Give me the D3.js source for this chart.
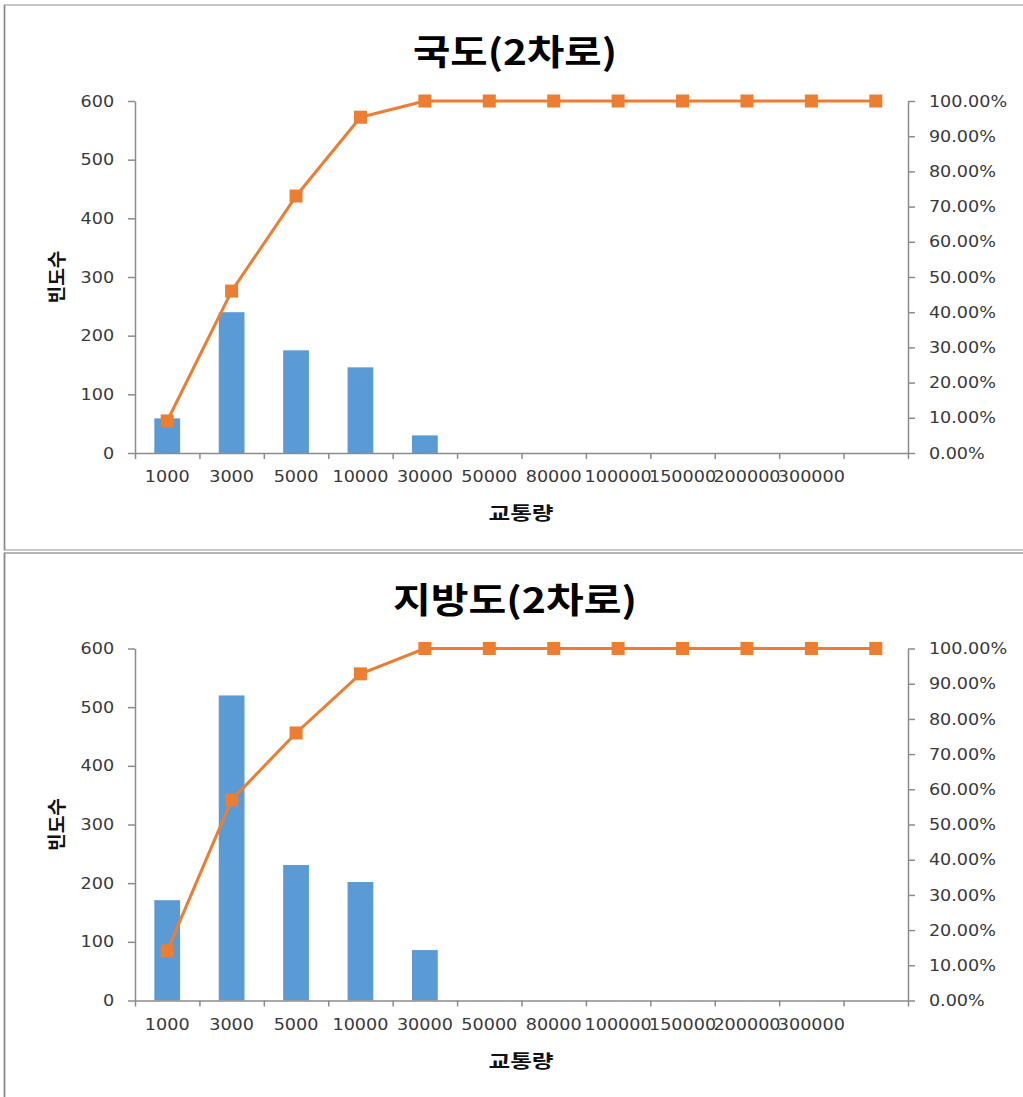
<!DOCTYPE html>
<html><head><meta charset="utf-8">
<script src="https://cdn.jsdelivr.net/npm/d3@7"></script>
<style>body{margin:0;background:#fff}</style>
</head><body>
<svg id="c" width="1023" height="1097"></svg>
<script>
const categories = ["1000","3000","5000","10000","30000","50000","80000","100000","150000","200000","300000",""];
const panelTitles = ["국도(2차로)", "지방도(2차로)"];
const roadCounts = [59, 240, 175, 146, 30, 0, 0, 0, 0, 0, 0, 0];
const roadCumPct = [9.1, 46.0, 73.0, 95.4, 100, 100, 100, 100, 100, 100, 100, 100];
const localCounts = [171, 520, 231, 202, 86, 0, 0, 0, 0, 0, 0, 0];
const localCumPct = [14.1, 57.0, 76.0, 92.8, 100, 100, 100, 100, 100, 100, 100, 100];
const countTicks = [0, 100, 200, 300, 400, 500, 600];
const pctTicks = [0, 10, 20, 30, 40, 50, 60, 70, 80, 90, 100];
const xAxisTitle = "교통량";
const yAxisTitle = "빈도수";

const W = 1023, H = 1097;
const svg = d3.select("#c");
svg.append("rect").attr("width", W).attr("height", H).attr("fill", "#fff");

const x0 = 135, x1 = 908, yTop = 101, yBot = 453;
const barColor = "#5B9BD5", lineColor = "#ED7D31", axisColor = "#8c8c8c", textColor = "#3a3a3a";
const numFont = "'DejaVu Sans', Verdana, sans-serif";
const krFont = "'Noto Sans CJK KR', sans-serif";

const panels = [
  {title: panelTitles[0], counts: roadCounts, cum: roadCumPct, top: 0, titleLen: 204, rectY: 5, rectH: 545, stroke: "#b5b5b5"},
  {title: panelTitles[1], counts: localCounts, cum: localCumPct, top: 547.5, titleLen: 244, rectY: 5.5, rectH: 600, stroke: "#9a9a9a"}
];

const idx = d3.range(categories.length);
const xb = d3.scaleBand().domain(idx).range([x0, x1]).paddingInner(0.6).paddingOuter(0.3);
const xl = d3.scaleLinear().domain([0, categories.length]).range([x0, x1]);
const yL = d3.scaleLinear().domain([0, 600]).range([yBot, yTop]);
const yR = d3.scaleLinear().domain([0, 100]).range([yBot, yTop]);

function styleAxis(g) {
  g.select(".domain").attr("stroke", axisColor).attr("stroke-width", 1.5);
  g.selectAll(".tick line").attr("stroke", axisColor).attr("stroke-width", 1.5);
  g.selectAll(".tick text").attr("fill", textColor).attr("font-family", numFont).attr("font-size", 16)
    .attr("transform", "scale(1.1,1)");
}

panels.forEach(p => {
  const g = svg.append("g").attr("transform", `translate(0,${p.top})`);
  g.append("rect").attr("x", 4.5).attr("y", p.rectY).attr("width", 1040).attr("height", p.rectH)
    .attr("fill", "none").attr("stroke", p.stroke).attr("stroke-width", 1.5);
  g.append("line").attr("x1", 4.5).attr("x2", 4.5).attr("y1", p.rectY).attr("y2", p.rectY + p.rectH)
    .attr("stroke", "#8a8a8a").attr("stroke-width", 1.5);

  // title
  g.append("text").attr("x", 515).attr("y", 65).attr("text-anchor", "middle")
    .attr("font-family", krFont).attr("font-weight", "bold").attr("font-size", 35)
    .attr("textLength", p.titleLen).attr("lengthAdjust", "spacingAndGlyphs")
    .attr("fill", "#000").text(p.title);

  // bars
  g.append("g").selectAll("rect").data(p.counts).join("rect")
    .attr("x", (d, i) => xb(i)).attr("width", xb.bandwidth())
    .attr("y", d => yL(d)).attr("height", d => yBot - yL(d))
    .attr("fill", barColor);

  // left axis
  const ga = g.append("g").attr("transform", `translate(${x0},0)`)
    .call(d3.axisLeft(yL).tickValues(countTicks).tickSize(7).tickSizeOuter(0).tickPadding(12));
  styleAxis(ga);

  // right axis
  const gr = g.append("g").attr("transform", `translate(${x1},0)`)
    .call(d3.axisRight(yR).tickValues(pctTicks).tickSize(7).tickSizeOuter(0).tickPadding(12)
      .tickFormat(d => d.toFixed(2) + "%"));
  styleAxis(gr);

  // bottom axis ticks at category boundaries
  const gb = g.append("g").attr("transform", `translate(0,${yBot})`)
    .call(d3.axisBottom(xl).tickValues(d3.range(categories.length + 1)).tickSize(6).tickSizeOuter(0).tickFormat(""));
  styleAxis(gb);
  // category labels
  const gbl = g.append("g").attr("transform", `translate(0,${yBot})`)
    .call(d3.axisBottom(xb).tickSize(0).tickPadding(18).tickFormat(i => categories[i]));
  gbl.select(".domain").remove();
  styleAxis(gbl);

  // cumulative line
  const lx = i => xb(i) + xb.bandwidth() / 2;
  g.append("path").datum(p.cum)
    .attr("d", d3.line().x((d, i) => lx(i)).y(d => yR(d)))
    .attr("fill", "none").attr("stroke", lineColor).attr("stroke-width", 3).attr("stroke-linejoin", "round");
  g.append("g").selectAll("rect").data(p.cum).join("rect")
    .attr("x", (d, i) => lx(i) - 6.5).attr("y", d => yR(d) - 6.5)
    .attr("width", 13).attr("height", 13).attr("fill", lineColor);

  // axis titles
  g.append("text").attr("x", 521).attr("y", 520).attr("text-anchor", "middle")
    .attr("font-family", krFont).attr("font-weight", "bold").attr("font-size", 18)
    .attr("textLength", 65).attr("lengthAdjust", "spacingAndGlyphs")
    .attr("fill", "#111").text(xAxisTitle);
  g.append("text").attr("transform", `translate(55,${(yTop + yBot) / 2}) rotate(-90)`)
    .attr("text-anchor", "middle").attr("dominant-baseline", "central")
    .attr("font-family", krFont).attr("font-weight", "bold").attr("font-size", 19)
    .attr("textLength", 53).attr("lengthAdjust", "spacingAndGlyphs")
    .attr("fill", "#111").text(yAxisTitle);
});
</script>
</body></html>
